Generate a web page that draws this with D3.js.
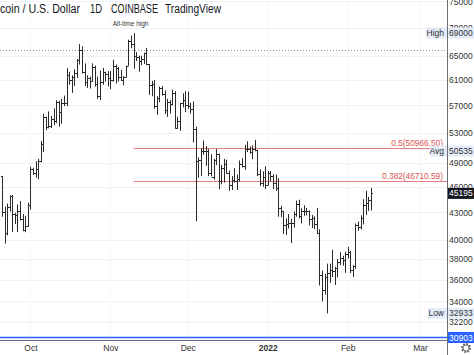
<!DOCTYPE html>
<html>
<head>
<meta charset="utf-8">
<script src="https://cdn.jsdelivr.net/npm/d3@7"></script>
<style>
  body { margin: 0; background: #fff; }
  svg { display: block; font-family: "Liberation Sans", Arial, sans-serif; }
</style>
</head>
<body>
<div id="chart"></div>
<script>
// Daily BTC/USD bars, first bar on 2021-09-20, one bar per day
const firstDay = Date.UTC(2021, 8, 20);

const opens = [
  47260, 43000, 40700, 43570, 44880, 42800, 42700, 43200, 42200, 41000, 41500,
  43800, 48150, 47700, 48200, 49250, 51500, 55330, 53800, 53950, 54950, 54700, 57500, 56000, 57400, 57350, 61700,
  60900, 61500, 62050, 64300, 66000, 62200, 60700, 61300, 60850, 63100, 60350, 58450, 60600, 62250, 61850,
  61300, 61000, 63230, 62950, 61450, 61000, 61500, 63300, 67550, 66950, 64900, 64800, 64150, 64400, 65500,
  63600, 60100, 60350, 56900, 58100, 59700, 58700, 56300, 57550, 57150, 58950, 53700, 54750, 57300, 57800,
  57000, 56950, 56500, 53600, 49200, 49400, 50550, 50600, 50500, 47650, 47150, 49350, 50100, 46700, 48350,
  48900, 47650, 46200, 46850, 46700, 46900, 48900, 48600, 50850, 50800, 50450, 50800, 50700, 47550, 46450, 47150,
  46200, 47700, 47300, 46450, 45800, 43450, 43100, 41550, 41700, 41850, 41850, 42750, 43950, 42600, 43100,
  43100, 43100, 42200, 42350, 41650, 40700, 36450, 35050, 36250, 36650, 36950, 36850, 37150, 37700, 38150, 37900,
  38480, 38750, 36900, 37300, 41550, 41400, 42400, 43850, 44100, 44400
];
const highs = [
  47330, 43640, 44000, 44980, 45000, 42950, 43900, 44300, 42800, 42600, 44100,
  48500, 48350, 49200, 49500, 51900, 55750, 55330, 56100, 55450, 56550, 57800, 57700, 58000, 58500, 62900, 62300,
  61700, 62700, 64450, 67000, 66600, 63700, 61700, 61500, 63700, 63300, 61500, 62500, 62950, 62300, 62400,
  62400, 64300, 63500, 63100, 62600, 61600, 63300, 67800, 68550, 69000, 65600, 65000, 65000, 65500, 66350,
  63600, 60800, 60950, 58400, 59900, 60000, 59300, 58000, 57800, 59400, 59200, 55300, 57400, 58850, 59200,
  59100, 57400, 57600, 53900, 49700, 50900, 51950, 51200, 50800, 50100, 49500, 50800, 50200, 48700, 49500,
  49400, 48000, 47300, 48300, 47500, 49300, 49600, 51400, 51850, 51150, 51300, 52050, 50700, 48150, 47900, 48550,
  47950, 47950, 47550, 47500, 47050, 43750, 43150, 42300, 42800, 42250, 43100, 44350, 44450, 43450, 43800,
  43500, 43200, 42700, 42550, 43500, 41100, 36850, 36550, 37550, 37550, 38950, 37250, 38000, 38700, 38350, 38750,
  39250, 38850, 37400, 41750, 41950, 42650, 44500, 45500, 44800, 45850
];
const lows = [
  42500, 39600, 40450, 43100, 40800, 41700, 40800, 42100, 40900, 40800, 41400,
  43300, 47450, 47100, 46900, 49050, 50400, 53400, 53650, 53700, 54100, 54400, 53900, 54300, 56900, 56900, 60200,
  58900, 60000, 61300, 63500, 62000, 60000, 59700, 59600, 60700, 59900, 58000, 57800, 60200, 60700, 59950,
  59500, 60700, 60400, 60700, 60800, 60100, 61400, 63300, 66300, 62800, 64100, 62300, 63400, 63600, 63400,
  58600, 58400, 56500, 55600, 57500, 58500, 55700, 55300, 55800, 57000, 53600, 53600, 53300, 56700, 56000,
  56500, 55800, 51700, 42000, 47100, 47300, 50050, 48600, 47300, 47300, 46850, 48700, 45700, 46300, 46500,
  47600, 45500, 45600, 46500, 45600, 46600, 48400, 48100, 50400, 50200, 49450, 50500, 47300, 46100, 46000, 45700,
  46200, 46650, 45700, 45500, 42500, 42450, 40600, 40500, 41200, 39650, 41300, 42500, 42300, 41750, 42600,
  42650, 41550, 41250, 41150, 40600, 35450, 34000, 34600, 32933, 35700, 36250, 35500, 36200, 37400, 37350, 36650,
  38050, 36600, 36250, 37050, 40950, 41100, 41650, 42700, 43150, 43200
];
const closes = [
  43000, 40700, 43570, 44880, 42800, 42700, 43200, 42200, 41000, 41500, 43800,
  48150, 47700, 48200, 49250, 51500, 55330, 53800, 53950, 54950, 54700, 57500, 56000, 57400, 57350, 61700, 60900,
  61500, 62050, 64300, 66000, 62200, 60700, 61300, 60850, 63100, 60350, 58450, 60600, 62250, 61850, 61300,
  61000, 63230, 62950, 61450, 61000, 61500, 63300, 67550, 66950, 64900, 64800, 64150, 64400, 65500, 63600,
  60100, 60350, 56900, 58100, 59700, 58700, 56300, 57550, 57150, 58950, 53700, 54750, 57300, 57800, 57000,
  56950, 56500, 53600, 49200, 49400, 50550, 50600, 50500, 47650, 47150, 49350, 50100, 46700, 48350, 48900,
  47650, 46200, 46850, 46700, 46900, 48900, 48600, 50850, 50800, 50450, 50800, 50700, 47550, 46450, 47150, 46200,
  47700, 47300, 46450, 45800, 43450, 43100, 41550, 41700, 41850, 41850, 42750, 43950, 42600, 43100, 43100,
  43100, 42200, 42350, 41650, 40700, 36450, 35050, 36250, 36650, 36950, 36850, 37150, 37700, 38150, 37900, 38480,
  38750, 36900, 37300, 41550, 41400, 42400, 43850, 44100, 44400, 45195
];

// Right price scale tick labels
const priceTicks = [75000, 70000, 65000, 61000, 57000, 53000, 49000, 46000, 43000, 40000, 38000, 36000, 34000, 32200];
// Month labels on the time scale
const monthTicks = ["2021-10-01", "2021-11-01", "2021-12-01", "2022-01-01", "2022-02-01", "2022-03-01"];
const monthNames = ["Oct", "Nov", "Dec", "2022", "Feb", "Mar"];

// Drawn levels
const athPrice = 69000;
const lowPrice = 32933;
const athDay = "2021-11-10";
const avgPrice = 50535;
const lastPrice = 45195;
const blueLevel = 30903;
const dottedLevel = 66000;
const fibLevels = [0.5, 0.382];

let svgWidth = 474;
let svgHeight = 355;
let plotRight = 447;
let plotBottom = 341;

let bars = opens.map((o, i) => ({
  date: new Date(firstDay + i * 86400000),
  open: o, high: highs[i], low: lows[i], close: closes[i]
}));

let svg = d3.select("#chart")
  .append("svg")
  .attr("width", svgWidth)
  .attr("height", svgHeight);

let x = d3.scaleUtc()
  .domain([new Date(Date.UTC(2021, 8, 20)), new Date(Date.UTC(2022, 2, 1))])
  .range([2, 420]);
let y = d3.scaleLog()
  .domain([blueLevel, athPrice])
  .range([337.5, 33]);

let px = v => Math.round(v) + 0.5;

//Grid
let grid = svg.append("g");
grid.selectAll(".hg")
  .data(priceTicks)
  .enter()
  .append("line")
  .attr("x1", 0).attr("x2", plotRight)
  .attr("y1", d => px(y(d))).attr("y2", d => px(y(d)))
  .attr("stroke", "#eef1f6");
grid.selectAll(".vg")
  .data(monthTicks)
  .enter()
  .append("line")
  .attr("x1", d => px(x(new Date(d)))).attr("x2", d => px(x(new Date(d))))
  .attr("y1", 0).attr("y2", plotBottom)
  .attr("stroke", "#eef1f6")
  .attr("stroke-dasharray", "2,2");

//Dotted level line
svg.append("line")
  .attr("x1", 0).attr("x2", plotRight)
  .attr("y1", px(y(dottedLevel))).attr("y2", px(y(dottedLevel)))
  .attr("stroke", "#8a8d96")
  .attr("stroke-dasharray", "1,2");

//Fibonacci lines from the all-time high to the low
let fibStart = x(new Date(athDay));
fibLevels.forEach(f => {
  let level = lowPrice + f * (athPrice - lowPrice);
  let ly = px(y(level));
  svg.append("line")
    .attr("x1", fibStart).attr("x2", plotRight)
    .attr("y1", ly).attr("y2", ly)
    .attr("stroke", "#e57f7f")
    .attr("stroke-width", 1);
  svg.append("text")
    .attr("x", 443).attr("y", ly - 3)
    .attr("text-anchor", "end")
    .attr("font-size", "8.3px")
    .attr("fill", "#d9534f")
    .text(`${f}(${level.toFixed(2)})`);
});

//OHLC bars
let barG = svg.append("g")
  .attr("stroke", "#2a2a2a")
  .attr("stroke-width", 1);
barG.selectAll(".hl")
  .data(bars)
  .enter()
  .append("line")
  .attr("x1", d => px(x(d.date))).attr("x2", d => px(x(d.date)))
  .attr("y1", d => y(d.high)).attr("y2", d => y(d.low));
barG.selectAll(".op")
  .data(bars)
  .enter()
  .append("line")
  .attr("x1", d => px(x(d.date)) - 1.5).attr("x2", d => px(x(d.date)))
  .attr("y1", d => px(y(d.open))).attr("y2", d => px(y(d.open)));
barG.selectAll(".cl")
  .data(bars)
  .enter()
  .append("line")
  .attr("x1", d => px(x(d.date))).attr("x2", d => px(x(d.date)) + 1.5)
  .attr("y1", d => px(y(d.close))).attr("y2", d => px(y(d.close)));

//All-time high note
svg.append("text")
  .attr("x", x(new Date(athDay)) - 3)
  .attr("y", y(athPrice) - 7)
  .attr("text-anchor", "middle")
  .attr("font-size", "6.5px")
  .attr("fill", "#333")
  .text("All-time high");

//Blue level line
svg.append("line")
  .attr("x1", 0).attr("x2", plotRight)
  .attr("y1", y(blueLevel)).attr("y2", y(blueLevel))
  .attr("stroke", "#2962ff")
  .attr("stroke-width", 1.5);

//Pane borders
svg.append("line")
  .attr("x1", 0).attr("x2", plotRight)
  .attr("y1", plotBottom - 0.5).attr("y2", plotBottom - 0.5)
  .attr("stroke", "#6b6e78");
svg.append("line")
  .attr("x1", plotRight + 0.5).attr("x2", plotRight + 0.5)
  .attr("y1", 0).attr("y2", svgHeight)
  .attr("stroke", "#6b6e78");

//Right price axis
let rightAxis = d3.axisRight(y)
  .tickValues(priceTicks)
  .tickFormat(d3.format("d"))
  .tickSize(0)
  .tickPadding(2);
let ax = svg.append("g")
  .attr("transform", `translate(${plotRight}, 0)`)
  .call(rightAxis);
ax.select(".domain").remove();
ax.selectAll("text")
  .attr("font-size", "8.5px")
  .attr("font-family", "Liberation Sans, Arial, sans-serif")
  .attr("fill", "#333");

//Price labels on the axis
let priceLabels = [
  { name: "High", value: athPrice, bg: "#e3ecf8", fg: "#333", boxX: 426 },
  { name: "Avg", value: avgPrice, bg: "#e3ecf8", fg: "#333", boxX: 430 },
  { name: "", value: lastPrice, bg: "#131722", fg: "#fff" },
  { name: "Low", value: lowPrice, bg: "#e3ecf8", fg: "#333", boxX: 428 },
  { name: "", value: blueLevel, bg: "#2962ff", fg: "#fff" }
];
priceLabels.forEach(p => {
  let cy = y(p.value);
  if (p.name) {
    svg.append("rect")
      .attr("x", p.boxX).attr("y", cy - 5.5)
      .attr("width", plotRight - p.boxX).attr("height", 11)
      .attr("fill", p.bg);
    svg.append("text")
      .attr("x", plotRight - 3).attr("y", cy + 3)
      .attr("text-anchor", "end")
      .attr("font-size", "8.5px")
      .attr("fill", p.fg)
      .text(p.name);
  }
  svg.append("rect")
    .attr("x", plotRight + 1).attr("y", cy - 5.5)
    .attr("width", svgWidth - plotRight).attr("height", 11)
    .attr("fill", p.bg);
  svg.append("text")
    .attr("x", plotRight + 2).attr("y", cy + 3)
    .attr("font-size", "8.5px")
    .attr("fill", p.fg)
    .text(p.value);
});

//Time axis
let bottomAxis = d3.axisBottom(x)
  .tickValues(monthTicks.map(d => new Date(d)))
  .tickFormat((d, i) => monthNames[i])
  .tickSize(0)
  .tickPadding(4);
let tx = svg.append("g")
  .attr("transform", `translate(0, ${plotBottom})`)
  .call(bottomAxis);
tx.select(".domain").remove();
tx.selectAll("text")
  .attr("font-size", "8.5px")
  .attr("font-family", "Liberation Sans, Arial, sans-serif")
  .attr("fill", "#333")
  .attr("font-weight", (d, i) => monthNames[i] === "2022" ? "bold" : "normal");

//Settings gear
let gear = svg.append("g").attr("transform", "translate(466, 348)");
gear.append("circle").attr("r", 4).attr("fill", "none")
  .attr("stroke", "#555").attr("stroke-width", 2).attr("stroke-dasharray", "1.6,1.5");
gear.append("circle").attr("r", 3).attr("fill", "none")
  .attr("stroke", "#555").attr("stroke-width", 0.8);

//Title
let titleParts = [
  { t: "coin / U.S. Dollar", x: 0, w: 80 },
  { t: "1D", x: 90, w: 12 },
  { t: "COINBASE", x: 111, w: 47 },
  { t: "TradingView", x: 165, w: 56 }
];
let title = svg.append("g").attr("font-size", "12px").attr("fill", "#131722");
titleParts.forEach(p => {
  title.append("text")
    .attr("x", p.x).attr("y", 13)
    .attr("textLength", p.w)
    .attr("lengthAdjust", "spacingAndGlyphs")
    .text(p.t);
});
</script>
</body>
</html>
